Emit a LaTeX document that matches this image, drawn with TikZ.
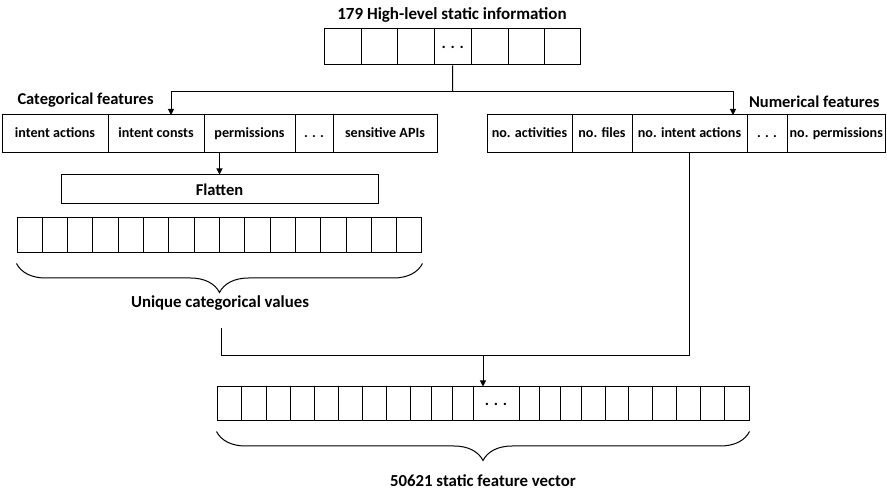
\documentclass[tikz,border=0pt]{standalone}
\usepackage{fontspec}
\setmainfont{Carlito}
\usetikzlibrary{arrows.meta,decorations.pathreplacing}

\begin{document}
\begin{tikzpicture}[x=1pt,y=-1pt,line width=1pt,
  cell/.style={draw,inner sep=0pt,text height=10pt,text depth=3pt,
    font=\bfseries\fontsize{14.1}{16}\selectfont},
  blank/.style={draw,inner sep=0pt,font=\bfseries\fontsize{16}{18}\selectfont},
  title/.style={inner sep=0pt,font=\bfseries\fontsize{16.5}{19}\selectfont},
  arr/.style={-{Triangle[length=6pt,width=6pt]}},
  brc/.style={decorate,decoration={brace,amplitude=29pt,aspect=0.5}}]
\useasboundingbox (0,0) rectangle (887,494);

% raw static information
\node[title,font=\bfseries\fontsize{17}{19}\selectfont] (toplbl) at (452,15) {179 High-level static information};
\foreach \l/\r/\t [count=\i] in {324/361/,361/397.5/,397.5/434.5/,434.5/471/. . .,471/508/,508/544/,544/580/}
  \node[blank,minimum width={(\r-\l)*1pt},minimum height=36pt] (t\i) at ({(\l+\r)/2},47) {\t};

% categorical feature groups
\node[title,anchor=west] (catlbl) at (17,100) {Categorical features};
\foreach \l/\r/\t [count=\i] in {2/108/intent actions,108/204/intent consts,204/295/permissions,295/333/. . .,333/437/sensitive APIs}
  \node[cell,minimum width={(\r-\l)*1pt},minimum height=38pt] (c\i) at ({(\l+\r)/2},134) {\t};

% numerical feature groups
\node[title,anchor=east] (numlbl) at (880,102) {Numerical features};
\foreach \l/\r/\t [count=\i] in {487/572/no. activities,572/632/no. files,632/747/no. intent actions,747/787/. . .,787/885.5/no. permissions}
  \node[cell,minimum width={(\r-\l)*1pt},minimum height=38pt] (n\i) at ({(\l+\r)/2},134) {\t};

% flatten step and its one-hot vector
\node[draw,inner sep=0pt,minimum width=317pt,minimum height=29pt,
  font=\bfseries\fontsize{16.5}{18}\selectfont] (flat) at (219.5,189.5) {Flatten};
\foreach \i in {1,...,16}
  \node[draw,inner sep=0pt,minimum width=25.31pt,minimum height=35pt] (f\i) at ({17+25.31*(\i-0.5)},235.5) {};
\draw[brc] (f16.south east) ++(0,10) coordinate (fbr) -- (fbr -| f1.south west);
\node[title,font=\bfseries\fontsize{16.8}{19}\selectfont] (uniq) at (220,303) {Unique categorical values};

% final static feature vector
\foreach \l/\r/\t [count=\i] in {217/241.5/,241.5/266/,266/290/,290/314/,314/338.5/,338.5/362.5/,362.5/386.5/,386.5/410/,410/431.5/,431.5/452/,452/473/,473/519/. . .,519/539.5/,539.5/560/,560/581/,581/605/,605/628.5/,628.5/652.5/,652.5/676.5/,676.5/700/,700/724/,724/749/}
  \node[blank,minimum width={(\r-\l)*1pt},minimum height=34pt] (b\i) at ({(\l+\r)/2},404) {\t};
\draw[brc] (b22.south east) ++(0,10) coordinate (bbr) -- (bbr -| b1.south west);
\node[title,font=\bfseries\fontsize{16.8}{19}\selectfont] (vec) at (483,481) {50621 static feature vector};

% connectors
\coordinate (split) at (452.5,92);
\coordinate (catin) at (171,115);
\coordinate (numin) at (733,115);
\draw (t4.south) -- (split);
\draw[arr] (split) -| (catin);
\draw[arr] (split) -| (numin);
\draw[arr] (c3.south -| flat.north) -- (flat.north);
\coordinate (mleft) at (221,328);
\coordinate (join) at (483,356);
\draw (mleft) |- (join -| n3.south) -- (n3.south);
\draw[arr] (join) -- (join |- b12.north);
\end{tikzpicture}
\end{document}
